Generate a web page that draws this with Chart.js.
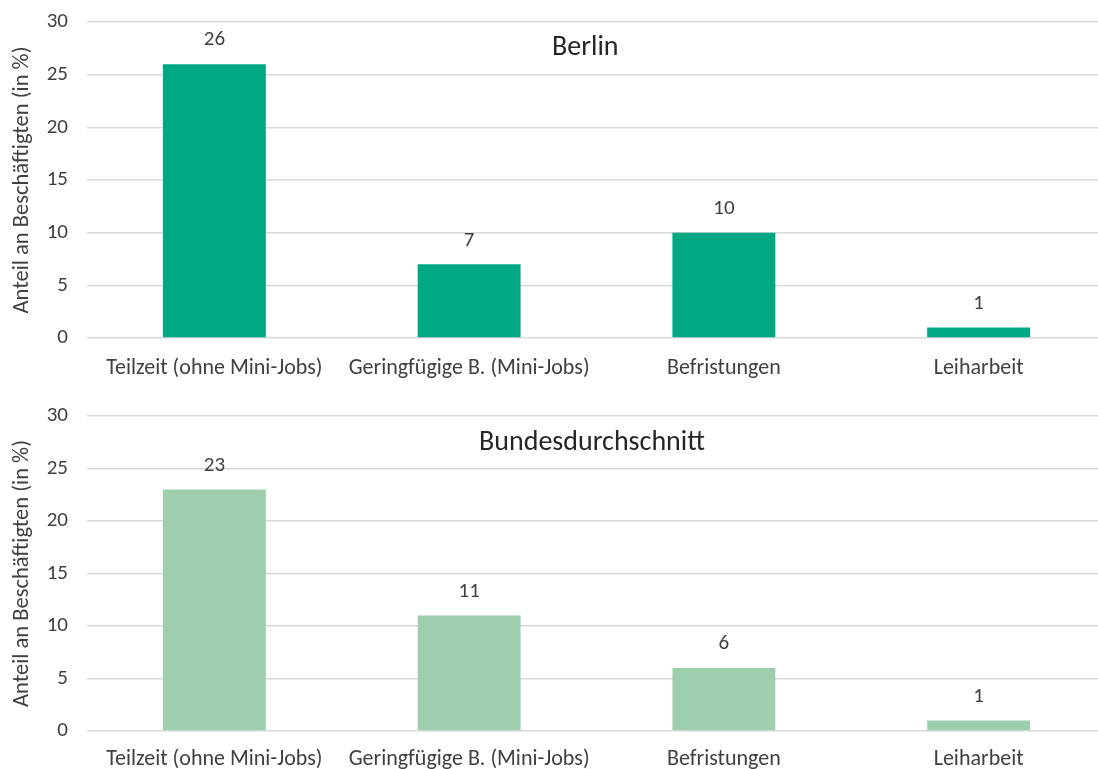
<!DOCTYPE html>
<html>
<head>
<meta charset="utf-8">
<script src="https://cdn.jsdelivr.net/npm/chart.js@4/dist/chart.umd.min.js"></script>
<style>
  html, body { margin: 0; padding: 0; background: #fff; overflow: hidden; width: 1098px; height: 769px; }
  canvas { position: absolute; left: 0; }
  #c1 { top: 0; }
  #c2 { top: 390px; }
</style>
</head>
<body>
<canvas id="c1" width="1108" height="390"></canvas>
<canvas id="c2" width="1108" height="400"></canvas>
<script>
const categories = ['Teilzeit (ohne Mini-Jobs)', 'Geringfügige B. (Mini-Jobs)', 'Befristungen', 'Leiharbeit'];
const berlinValues = [26, 7, 10, 1];
const bundValues = [23, 11, 6, 1];
const yTickValues = [0, 5, 10, 15, 20, 25, 30];
const chartTitles = ['Berlin', 'Bundesdurchschnitt'];
const yAxisTitle = 'Anteil an Beschäftigten (in %)';

const FONT = "Carlito, Calibri, Lato, 'Open Sans', sans-serif";

const labelPlugin = {
  id: 'valueLabels',
  afterDatasetsDraw(chart) {
    const ctx = chart.ctx;
    const ds = chart.data.datasets[0];
    const meta = chart.getDatasetMeta(0);
    ctx.save();
    ctx.font = '21px ' + FONT;
    ctx.fillStyle = '#404040';
    ctx.textAlign = 'center';
    ctx.textBaseline = 'middle';
    meta.data.forEach((el, i) => {
      ctx.fillText(String(ds.data[i]), el.x, el.y - 24);
    });
    ctx.restore();
  }
};

const titlePlugin = {
  id: 'innerTitle',
  afterDraw(chart, args, opts) {
    const ctx = chart.ctx;
    const a = chart.chartArea;
    ctx.save();
    ctx.font = '28px ' + FONT;
    ctx.fillStyle = '#262626';
    ctx.textAlign = 'center';
    ctx.textBaseline = 'middle';
    ctx.fillText(opts.text, a.left + a.width * opts.cx, a.top + opts.dy);
    ctx.restore();
  }
};

function makeChart(id, title, values, color, padTop, xHeight, xPad, titleDy, titleCx) {
  return new Chart(document.getElementById(id), {
    type: 'bar',
    data: {
      labels: categories,
      datasets: [{
        data: values,
        backgroundColor: color,
        borderWidth: 0,
        barPercentage: 0.404,
        categoryPercentage: 1.0
      }]
    },
    options: {
      responsive: false,
      animation: false,
      layout: { padding: { top: padTop, right: 2, left: 0, bottom: 0 } },
      plugins: {
        legend: { display: false },
        tooltip: { enabled: false },
        title: { display: false },
        innerTitle: { text: title, dy: titleDy, cx: titleCx }
      },
      scales: {
        x: {
          grid: { display: false, drawTicks: false },
          border: { display: false },
          ticks: {
            color: '#404040',
            font: { family: FONT, size: 22 },
            padding: xPad,
            maxRotation: 0,
            autoSkip: false
          },
          afterFit(scale) {
            scale.height = xHeight;
            scale.paddingLeft = 0; scale.paddingRight = 0;
          }
        },
        y: {
          min: 0,
          max: 30,
          afterBuildTicks(scale) { scale.ticks = yTickValues.map(v => ({ value: v })); },
          grid: { color: '#d9d9d9', lineWidth: 1.5, drawTicks: false },
          border: { display: false },
          ticks: {
            color: '#404040',
            font: { family: FONT, size: 21 },
            padding: 19
          },
          title: {
            display: true,
            text: yAxisTitle,
            color: '#404040',
            font: { family: FONT, size: 22.5 },
            padding: { top: 9, bottom: 0 }
          },
          afterFit(scale) {
            scale.width = 87;
            scale.paddingTop = 0; scale.paddingBottom = 0;
          }
        }
      }
    },
    plugins: [labelPlugin, titlePlugin]
  });
}

makeChart('c1', chartTitles[0], berlinValues, '#00A884', 22, 52, 17, 26, 0.489);
makeChart('c2', chartTitles[1], bundValues, '#9DCFAF', 26, 59, 15, 27, 0.4956);
</script>
</body>
</html>
